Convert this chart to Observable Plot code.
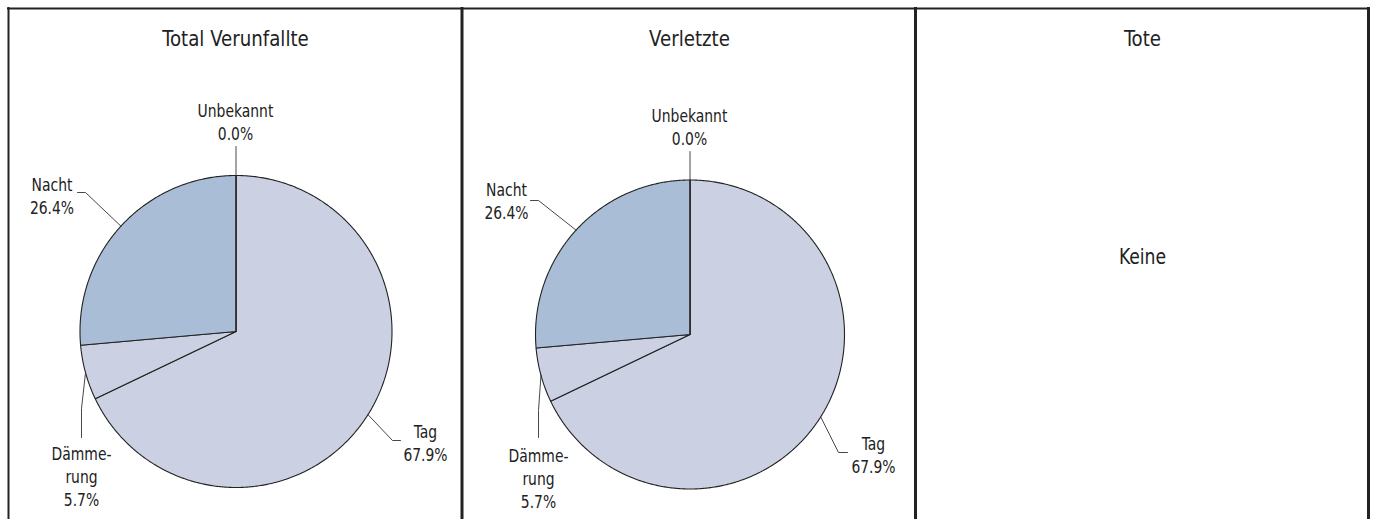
<!DOCTYPE html>
<html><head><meta charset="utf-8">
<script src="https://cdn.jsdelivr.net/npm/d3@7"></script>
<script src="https://cdn.jsdelivr.net/npm/@observablehq/plot@0.6"></script>
<style>body{margin:0;background:#fff}</style>
</head><body><div id="chart"></div>
<script>
// ---- data ----
const panelTitles = ["Total Verunfallte", "Verletzte", "Tote"];
const categories = ["Tag", "Dämmerung", "Nacht", "Unbekannt"];
const categoryLabels = ["Tag", "Dämme-\nrung", "Nacht", "Unbekannt"];
const verunfallteShares = [67.9, 5.7, 26.4, 0.0];
const verletzteShares = [67.9, 5.7, 26.4, 0.0];
const toteShares = [];
const emptyLabel = "Keine";
const seriesShares = [verunfallteShares, verletzteShares, toteShares];

// ---- layout / style ----
const W = 1374, H = 519;
const FONT = `"DejaVu Sans Condensed","Roboto",sans-serif`;
const sliceColors = ["#cbd1e2", "#cbd1e2", "#a9bdd7", "#cbd1e2"];
const ink = "#222";
const layout = [
  {cx: 235.5, cy: 331, r: 156, titleX: 235,
   lab: {
     "Tag":       {x: 425,  y: 441.5, pts: [[392, 440], [400, 440]]},
     "Dämmerung": {x: 81,   y: 475,   pts: [[81, 408], [81, 437]]},
     "Nacht":     {x: 51.5, y: 194.5, pts: [[85, 192], [77, 192]]},
     "Unbekannt": {x: 235,  y: 121,   pts: [[235.5, 146]]}
   }},
  {cx: 689.5, cy: 334, r: 154.5, titleX: 689,
   lab: {
     "Tag":       {x: 873,  y: 453.5, pts: [[838, 452], [847, 452]]},
     "Dämmerung": {x: 538,  y: 477,   pts: [[538, 410], [538, 437]]},
     "Nacht":     {x: 506,  y: 199.5, pts: [[538, 200], [530, 200]]},
     "Unbekannt": {x: 689,  y: 126,   pts: [[689.5, 151]]}
   }},
  {cx: 1142, cy: 257, r: 0, titleX: 1142, lab: {}}
];

// ---- derived geometry (from data values) ----
const fmt = d3.format(".1f");
const slicePts = [], leaderPts = [], labels = [], empties = [];
seriesShares.forEach((vals, p) => {
  const L = layout[p];
  if (!vals.length) { empties.push({p}); return; }
  const total = d3.sum(vals);
  let acc = 0;
  vals.forEach((v, i) => {
    const a0 = acc / total * 2 * Math.PI;
    acc += v;
    const a1 = acc / total * 2 * Math.PI;
    const key = p + "-" + i;
    const pt = (a) => [L.cx + L.r * Math.sin(a), L.cy - L.r * Math.cos(a)];
    slicePts.push({key, cat: categories[i], x: L.cx, y: L.cy});
    const n = Math.max(1, Math.ceil((a1 - a0) / (Math.PI / 360)));
    for (let k = 0; k <= n; k++) {
      const [x, y] = pt(a0 + (a1 - a0) * k / n);
      slicePts.push({key, cat: categories[i], x, y});
    }
    slicePts.push({key, cat: categories[i], x: L.cx, y: L.cy});
    const info = L.lab[categories[i]];
    const [ex, ey] = pt((a0 + a1) / 2);
    leaderPts.push({key, x: ex, y: ey});
    info.pts.forEach(([x, y]) => leaderPts.push({key, x, y}));
    labels.push({x: info.x, y: info.y, text: categoryLabels[i] + "\n" + fmt(v) + "%"});
  });
});

const chart = Plot.plot({
  width: W, height: H,
  margin: 0,
  x: {domain: [0, W], range: [0, W], axis: null},
  y: {domain: [0, H], range: [0, H], axis: null},
  color: {domain: categories, range: sliceColors},
  style: {fontFamily: FONT, background: "#fff"},
  marks: [
    Plot.line(slicePts, {x: "x", y: "y", z: "key", fill: "cat", stroke: ink, strokeWidth: 1.1, strokeLinejoin: "round", curve: "linear"}),
    Plot.line(leaderPts, {x: "x", y: "y", z: "key", stroke: "#333", strokeWidth: 0.9, curve: "linear"}),
    Plot.text(labels, {x: "x", y: "y", text: "text", fontSize: 18, lineHeight: 1.27, fill: ink, fontFamily: FONT, textAnchor: "middle"}),
    Plot.text(panelTitles, {x: (d, i) => layout[i].titleX, y: () => 38, text: d => d, fontSize: 22, fill: ink, fontFamily: FONT}),
    Plot.text(empties, {x: d => layout[d.p].cx, y: d => layout[d.p].cy, text: () => emptyLabel, fontSize: 21, fill: ink, fontFamily: FONT}),
    Plot.ruleY([8], {x1: 7, x2: 1369.5, stroke: ink, strokeWidth: 2}),
    Plot.ruleX([8], {y1: 7, y2: H, stroke: ink, strokeWidth: 2}),
    Plot.ruleX([461.5, 915], {y1: 7, y2: H, stroke: ink, strokeWidth: 3}),
    Plot.ruleX([1368], {y1: 7, y2: H, stroke: ink, strokeWidth: 3})
  ]
});
// horizontally condense the text glyphs to mimic the narrow original typeface
const squeeze = [0.86, 0.92, 0.91];
d3.select(chart).selectAll('g[aria-label="text"]').each(function(_, gi) {
  d3.select(this).selectAll("text").each(function() {
    const t = this.getAttribute("transform") || "";
    this.setAttribute("transform", t + ` scale(${squeeze[gi]},1)`);
  });
});
document.getElementById("chart").appendChild(chart);
</script>
</body></html>
